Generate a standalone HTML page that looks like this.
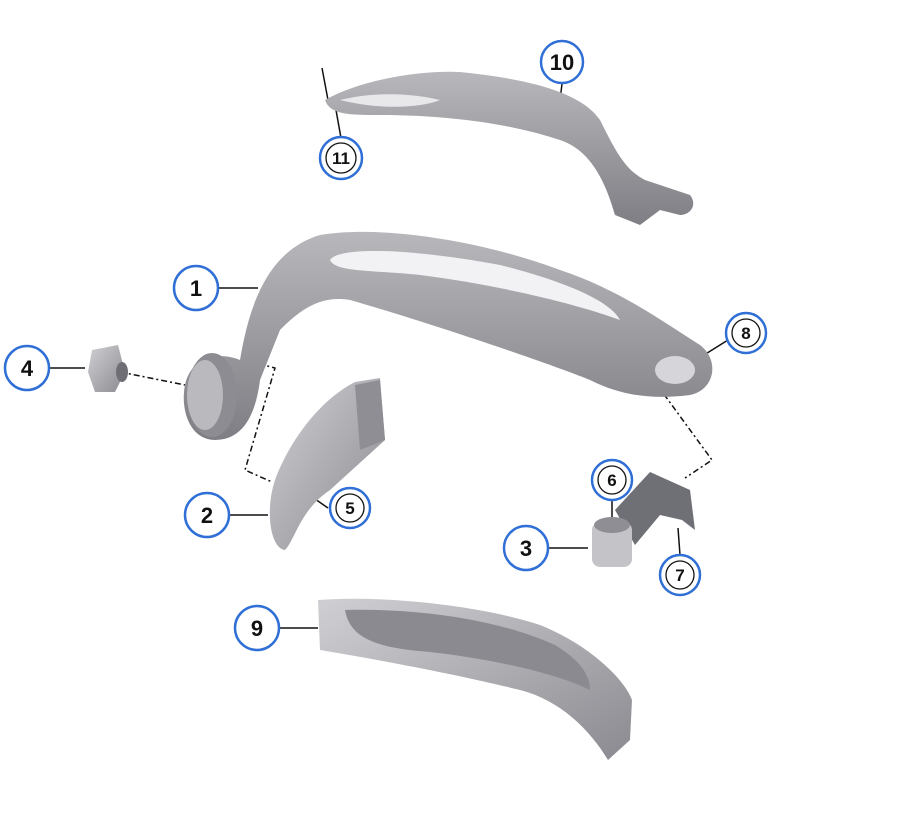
<!DOCTYPE html>
<html><head><meta charset="utf-8"><style>
html,body{margin:0;padding:0;background:#fff;}
svg{display:block}
text{font-family:"Liberation Sans",sans-serif;font-weight:bold;text-anchor:middle;fill:#111}
</style></head><body>
<svg width="898" height="822" viewBox="0 0 898 822" xmlns="http://www.w3.org/2000/svg">
<defs>
<linearGradient id="g1" x1="0" y1="0" x2="0" y2="1"><stop offset="0" stop-color="#b8b8bc"/><stop offset="1" stop-color="#7e7e84"/></linearGradient>
<linearGradient id="g2" x1="0" y1="0" x2="1" y2="1"><stop offset="0" stop-color="#d0d0d4"/><stop offset="1" stop-color="#8a8a90"/></linearGradient>
</defs>
<g stroke="#111" stroke-width="1.5" fill="none">
<!-- leaders -->
<line x1="218" y1="288" x2="258" y2="288"/>
<line x1="49" y1="368" x2="85" y2="368"/>
<line x1="229" y1="515" x2="268" y2="515"/>
<line x1="505" y1="548" x2="588" y2="548"/>
<line x1="562" y1="84" x2="560" y2="100"/>
<line x1="341" y1="138" x2="336" y2="110"/>
<line x1="322" y1="68" x2="328" y2="100"/>
<line x1="728" y1="340" x2="704" y2="355"/>
<line x1="612" y1="500" x2="612" y2="530"/>
<line x1="680" y1="555" x2="678" y2="528"/>
<line x1="328" y1="508" x2="305" y2="492"/>
<line x1="235" y1="628" x2="318" y2="628"/>
<g stroke-dasharray="6,3,2,3">
<line x1="120" y1="372" x2="185" y2="385"/>
<polyline points="245,360 275,368 245,470 272,482"/>
<polyline points="680,372 655,382 712,460 685,478"/>
</g>
</g>
<!-- part 10 -->
<path d="M325,100 C360,80 420,70 460,72 C520,78 580,90 600,120 C615,150 625,170 645,180 L690,195 C698,205 690,215 680,215 L660,210 L640,225 L615,215 C605,180 590,150 560,140 C500,120 430,115 380,115 C350,115 330,115 325,100Z" fill="url(#g1)"/>
<path d="M340,100 C380,90 420,95 440,100 C420,108 380,110 340,100Z" fill="#e8e8ea"/>
<!-- part 1 -->
<path d="M240,360 C250,300 270,250 320,235 C380,225 480,240 560,270 C620,290 660,320 700,345 C720,360 715,390 690,395 C650,400 620,395 590,380 C540,360 420,320 350,300 C320,295 300,310 280,330 L260,380 C255,420 240,440 215,440 C190,440 180,410 185,385 C190,360 215,350 240,360Z" fill="url(#g1)"/>
<path d="M330,260 C340,245 420,250 500,265 C560,280 610,300 620,320 C580,305 500,285 420,275 C370,270 335,272 330,260Z" fill="#f2f2f4"/>
<ellipse cx="212" cy="395" rx="25" ry="42" fill="#8c8c92"/>
<ellipse cx="205" cy="395" rx="18" ry="35" fill="#b9b9be"/>
<ellipse cx="675" cy="370" rx="20" ry="14" fill="#d6d6da"/>
<!-- part 4 -->
<path d="M92,350 L118,345 L125,372 L115,392 L95,392 L88,372Z" fill="url(#g2)"/>
<ellipse cx="122" cy="372" rx="6" ry="10" fill="#6e6e74"/>
<!-- part 2 -->
<path d="M275,480 C290,440 320,400 355,382 L380,378 L385,440 L330,490 C300,510 295,540 285,550 C270,548 265,510 275,480Z" fill="url(#g2)"/>
<path d="M355,385 L380,380 L385,440 L360,450Z" fill="#8e8e94"/>
<!-- part 3,7 -->
<path d="M615,510 L650,472 L690,490 L695,530 L682,520 L660,515 L635,545Z" fill="#6f6f76"/>
<rect x="592" y="522" width="40" height="45" rx="8" fill="#c4c4c8"/>
<ellipse cx="612" cy="525" rx="18" ry="8" fill="#8e8e94"/>
<!-- part 9 -->
<path d="M318,600 C380,595 480,605 540,625 C590,645 625,680 632,700 L630,740 L608,760 C590,730 560,700 520,690 C460,675 380,660 320,650Z" fill="url(#g2)"/>
<path d="M345,610 C420,608 500,620 555,645 C580,660 590,675 590,690 C560,675 500,660 430,652 C380,648 350,640 345,610Z" fill="#8a8a90"/>
<!-- callouts -->
<g fill="#fff" stroke="#2f6fd6" stroke-width="2.5">
<circle cx="562" cy="62" r="21"/><circle cx="341" cy="158" r="21"/><circle cx="196" cy="288" r="22"/>
<circle cx="27" cy="368" r="22"/><circle cx="746" cy="333" r="20"/><circle cx="207" cy="515" r="22"/>
<circle cx="350" cy="508" r="20"/><circle cx="612" cy="480" r="20"/><circle cx="526" cy="548" r="22"/>
<circle cx="680" cy="575" r="20"/><circle cx="257" cy="628" r="22"/>
</g>
<g fill="none" stroke="#111" stroke-width="1.3">
<circle cx="341" cy="158" r="15"/><circle cx="746" cy="333" r="14"/><circle cx="350" cy="508" r="14"/>
<circle cx="612" cy="480" r="14"/><circle cx="680" cy="575" r="14"/>
</g>
<g font-size="22">
<text x="562" y="70">10</text><text x="196" y="296">1</text><text x="27" y="376">4</text>
<text x="207" y="523">2</text><text x="526" y="556">3</text><text x="257" y="636">9</text>
</g>
<g font-size="17">
<text x="341" y="164">11</text><text x="746" y="339">8</text><text x="350" y="514">5</text>
<text x="612" y="486">6</text><text x="680" y="581">7</text>
</g>
</svg>
</body></html>
